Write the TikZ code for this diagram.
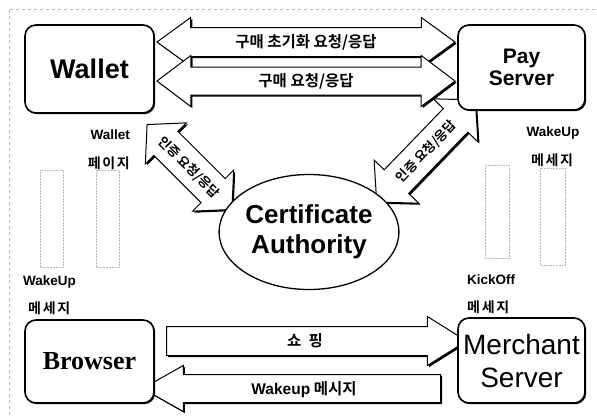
\documentclass[tikz,border=0pt]{standalone}
\usepackage{fontspec}
\setmainfont{Liberation Serif}
\setsansfont{Liberation Sans}
\newfontfamily\kr{Noto Sans CJK KR}[BoldFont={Noto Sans CJK KR Bold}]
\usetikzlibrary{shapes.geometric}
\usetikzlibrary{shapes.arrows}
\usetikzlibrary{shadows}
\usetikzlibrary{positioning}

\begin{document}
\begin{tikzpicture}[x=1pt,y=-1pt,
  box/.style={draw,line width=1.6pt,rounded corners=11pt,fill=white,
    drop shadow={shadow xshift=1.2pt,shadow yshift=-1.2pt,fill=black,opacity=1},
    align=center,inner sep=0pt},
  blk/.style={draw,line width=1pt,fill=white,inner xsep=0pt,inner ysep=0pt,
    drop shadow={shadow xshift=1.6pt,shadow yshift=-1.6pt,fill=black,opacity=1},
    font=\kr\bfseries\fontsize{15.5}{16}\selectfont},
  dbl/.style={blk,double arrow},
  sgl/.style={blk,single arrow},
  slant/.style={dbl,text height=21.5pt,text depth=11.5pt,double arrow tip angle=95,
    font=\kr\bfseries\fontsize{13}{14}\selectfont},
  note/.style={inner sep=0pt,font=\sffamily\bfseries\fontsize{13.5}{14}\selectfont},
  krnote/.style={inner sep=0pt,font=\kr\bfseries\fontsize{14}{15}\selectfont\addfontfeature{LetterSpace=12}},
  faint/.style={gray!55,densely dotted,line width=0.5pt}]
\useasboundingbox (0,0) rectangle (597,416);

% scanned frame and leftover outlines
\draw[faint,dashed] (10,9) -- (597,9);
\draw[faint,dashed] (9,10) -- (9,416);
\draw[faint] (40,170) rectangle (63,267);
\draw[faint] (96,170) rectangle (119,267);
\draw[faint] (485,165) rectangle (509,258);
\draw[faint] (540,168) rectangle (565,265);

% block arrows
\node[dbl,minimum height=298pt,text height=19.5pt,text depth=8.5pt,
  double arrow head extend=10pt,double arrow tip angle=72] (init) at (306,42) {구매 초기화 요청/응답};
\node[dbl,minimum height=298pt,text height=19pt,text depth=8pt,
  double arrow head extend=11.5pt,double arrow tip angle=74] (buy) at (306,81) {구매 요청/응답};
\node[slant,rotate=-45,minimum height=120pt,
  double arrow head extend=12pt] (authL) at (189.5,167) {인증 요청/응답};
\node[slant,rotate=46,minimum height=142pt,
  double arrow head extend=14pt] (authR) at (426,151) {인증 요청/응답};
\node[sgl,minimum height=300pt,text height=19.5pt,text depth=8.5pt,
  single arrow head extend=10pt,single arrow tip angle=64] (shop) at (305,341) {쇼 \ 핑};
\node[sgl,shape border rotate=180,minimum height=298pt,text height=19pt,text depth=8pt,
  single arrow head extend=9pt,single arrow tip angle=59] (wake) at (304,388.5) {{\sffamily Wakeup} 메시지};

% boxes
\node[box,minimum width=129pt,minimum height=88pt,
  font=\sffamily\bfseries\fontsize{27}{30}\selectfont] (wallet) at (89.5,69) {Wallet};
\node[box,minimum width=127pt,minimum height=85pt,
  font=\sffamily\bfseries\fontsize{21}{22}\selectfont] (pay) at (521.5,67.5) {Pay\\Server};
\node[box,minimum width=129pt,minimum height=83pt,
  font=\rmfamily\bfseries\fontsize{26}{30}\selectfont] (browser) at (89.5,361.5) {Browser};
\node[box,minimum width=127pt,minimum height=85pt,
  font=\sffamily\fontsize{28}{33}\selectfont] (merchant) at (521.5,360.5) {Merchant\\Server};
\node[ellipse,draw,fill=white,line width=1.3pt,minimum width=155pt,minimum height=115pt,
  inner sep=0pt,align=center,
  font=\sffamily\bfseries\fontsize{26}{30}\selectfont] (ca) at (309,232) {Certificate\\Authority};

% side labels
\node[note,anchor=east] (walletpg) at (130,135) {Wallet};
\node[krnote,anchor=east] (walletpgk) at (130,163) {페이지};
\node[note] (wakepay) at (553,133) {WakeUp};
\node[krnote] (wakepayk) at (552,160) {메세지};
\node[note,anchor=west] (wakebr) at (23,282) {WakeUp};
\node[krnote,anchor=west] (wakebrk) at (28,308) {메세지};
\node[note,anchor=west] (kick) at (467,280) {KickOff};
\node[krnote,anchor=west] (kickk) at (467,307) {메세지};
\end{tikzpicture}
\end{document}
